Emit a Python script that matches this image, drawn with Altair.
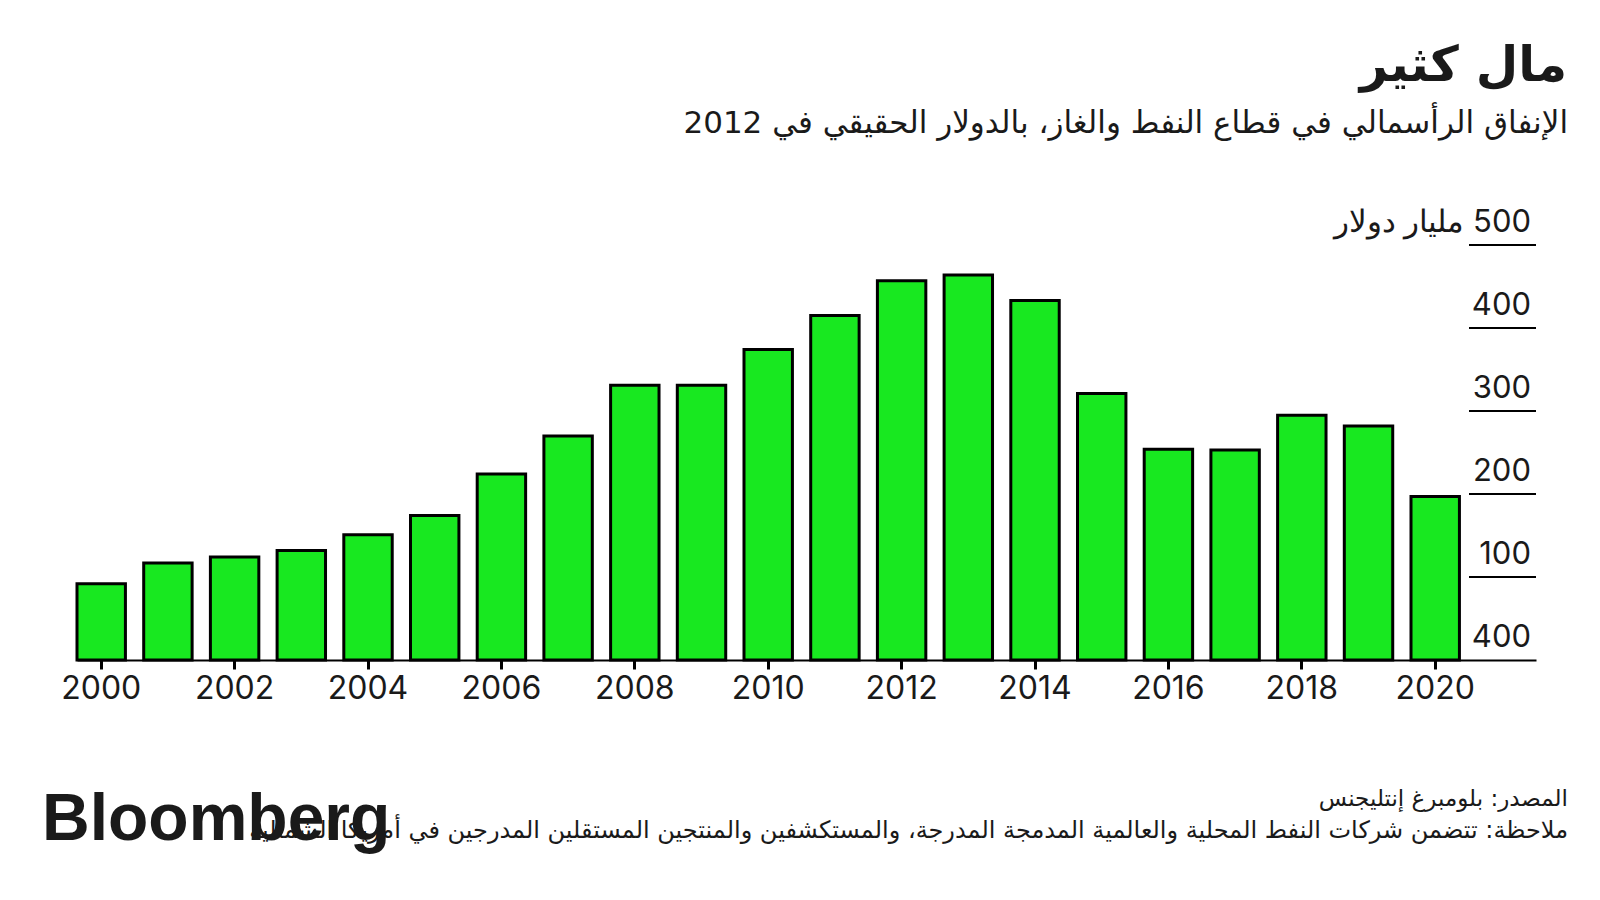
import altair as alt
import pandas as pd

# ---- data ----
YEARS = list(range(2000, 2021))
CAPEX = [92, 117, 124, 132, 151, 174, 224, 270, 331, 331, 374, 415,
         457, 464, 433, 321, 254, 253, 295, 282, 197]
X_LABEL_YEARS = list(range(2000, 2021, 2))
GRID_VALUES = [100, 200, 300, 400, 500]
TICK_VALUES = [0, 100, 200, 300, 400, 500]
TICK_LABELS = ["400", "100", "200", "300", "400", "مليار دولار\u200e 500"]

TITLE = "مال كثير"
SUBTITLE = "الإنفاق الرأسمالي في قطاع النفط والغاز،  بالدولار الحقيقي في 2012"
SOURCE = "المصدر: بلومبرغ إنتليجنس"
NOTE = ("ملاحظة: تتضمن شركات النفط المحلية والعالمية المدمجة المدرجة، "
        "والمستكشفين والمنتجين المستقلين المدرجين في أمريكا الشمالية")
BRAND = "Bloomberg"

# ---- styling ----
INK = "#1a1a1a"
GREEN = "#18e820"
NUM_FONT = "Inter"
AR_FONT = "DejaVu Sans"
W, H = 1459, 415

bars_df = pd.DataFrame({"year": YEARS, "capex": CAPEX})
grid_df = pd.DataFrame({"v": GRID_VALUES})
lab_df = pd.DataFrame({"v": TICK_VALUES, "lab": TICK_LABELS})

yscale = alt.Scale(domain=[0, 500], nice=False, zero=True)

bars = alt.Chart(bars_df).mark_bar(
    fill=GREEN, stroke="#000000", strokeWidth=3
).encode(
    x=alt.X("year:O",
            scale=alt.Scale(paddingInner=0.274, paddingOuter=0.574, align=0),
            axis=alt.Axis(values=X_LABEL_YEARS, title=None, labelAngle=0,
                          labelFont=NUM_FONT, labelFontSize=32, labelColor=INK,
                          labelPadding=4, tickColor="#000000", tickWidth=3,
                          tickSize=9, domainColor="#000000", domainWidth=2,
                          grid=False)),
    y=alt.Y("capex:Q", scale=yscale, axis=None),
)

grid = alt.Chart(grid_df).mark_rule(color="#000000", strokeWidth=2).encode(
    y=alt.Y("v:Q", scale=yscale, axis=None),
    x=alt.value(W - 67),
    x2=alt.value(W),
)

ylabels = alt.Chart(lab_df).mark_text(
    align="right", baseline="alphabetic", dy=-13,
    font=NUM_FONT, fontSize=31, color=INK
).encode(
    y=alt.Y("v:Q", scale=yscale, axis=None),
    x=alt.value(W - 5),
    text="lab:N",
)


def text_layer(txt, x, y, size, weight="normal", font=AR_FONT, align="right"):
    return alt.Chart(alt.Data(values=[{"t": txt}])).mark_text(
        align=align, baseline="alphabetic", fontSize=size,
        fontWeight=weight, font=font, color=INK
    ).encode(x=alt.value(x), y=alt.value(y), text="t:N")


title = text_layer(TITLE, 1490, -164, 49, weight="bold")
subtitle = text_layer(SUBTITLE, 1491, -112, 31)
source = text_layer(SOURCE, 1491, 561, 23)
note = text_layer(NOTE, 1491, 593, 24)
brand = text_layer(BRAND, -35, 595, 66, weight="bold",
                   font="Liberation Sans", align="left")

chart = alt.layer(
    bars, grid, ylabels, title, subtitle, source, note, brand
).properties(
    width=W, height=H,
    padding={"left": 77, "top": 245, "right": 64, "bottom": 240},
    autosize=alt.AutoSizeParams(type="none"),
    background="#ffffff",
).configure_view(strokeWidth=0)

chart.save("out.html", embed_options={"renderer": "svg", "actions": False})
